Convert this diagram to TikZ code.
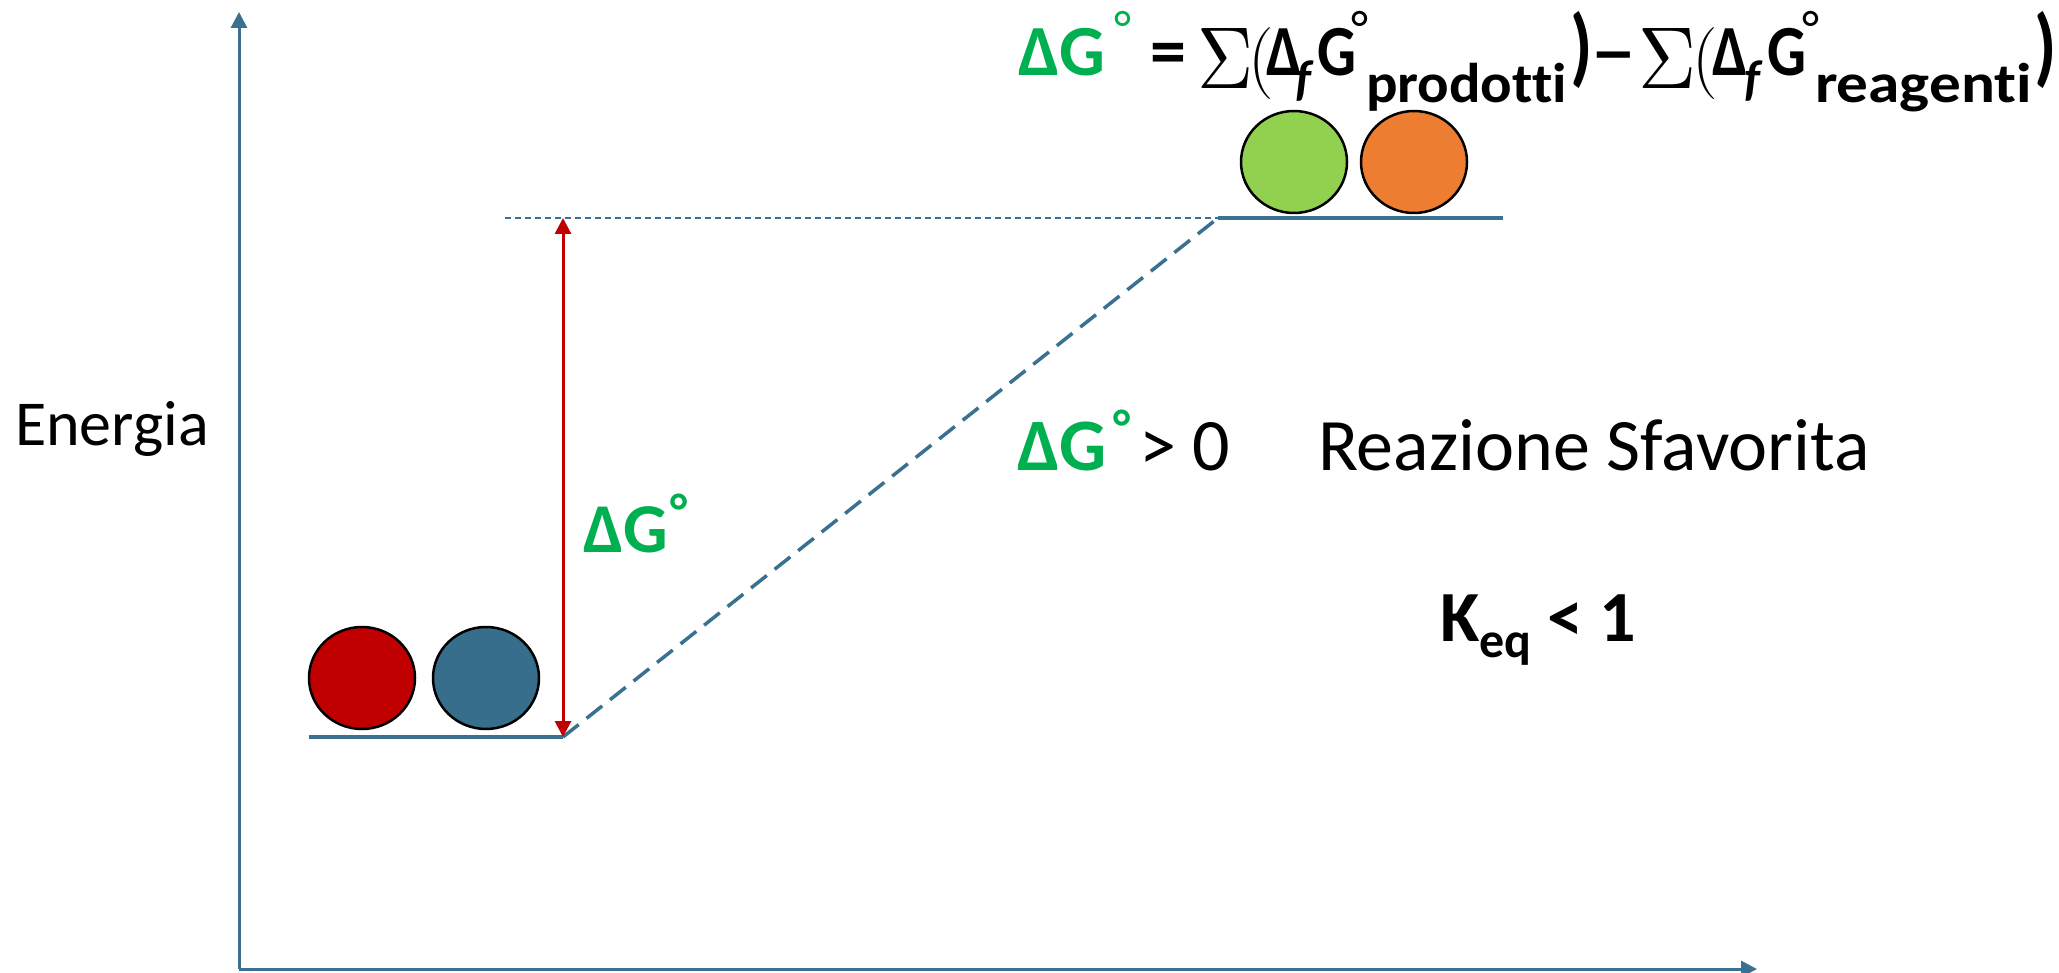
\documentclass[tikz,border=0pt]{standalone}
\usepackage{graphicx}
\usepackage{fontspec}
\setmainfont{Carlito}[Ligatures=NoCommon]
\usetikzlibrary{arrows.meta,shapes.geometric}
\definecolor{axisblue}{HTML}{3A7190}
\definecolor{dgreen}{HTML}{00B050}
\definecolor{dred}{HTML}{C00000}
\definecolor{ballblue}{HTML}{376E8C}
\definecolor{ballgreen}{HTML}{92D050}
\definecolor{ballorange}{HTML}{ED7D31}
\newcommand{\lpar}{{\fontsize{72}{80}\fontseries{m}\fontfamily{lmr}\selectfont(}}
\newcommand{\rpar}{\scalebox{1}[1.2]{)}}
\newcommand{\degr}[1][20pt]{\raisebox{#1}{\fontsize{50}{50}\selectfont °}}
\newcommand{\narrow}[1]{\scalebox{0.85}[1]{#1}}
\tikzset{
  txt/.style={anchor=base west,inner sep=0pt,outer sep=0pt},
  fm/.style={txt,font=\fontsize{72}{80}\selectfont\bfseries},
  fs/.style={txt,font=\fontsize{56}{64}\selectfont\bfseries},
  ff/.style={txt,font=\fontsize{50}{58}\selectfont\bfseries\itshape},
  fsum/.style={inner sep=0pt,outer sep=0pt,anchor=south west},
  ball/.style={ellipse,draw=black,line width=2.5pt,minimum width=106pt,minimum height=102pt,inner sep=0pt},
  axis/.style={draw=axisblue,line width=3pt,-{Triangle[width=16pt,length=16pt]}},
  level/.style={draw=axisblue,line width=4pt},
}
\begin{document}
\begin{tikzpicture}[x=1pt,y=-1pt]
\useasboundingbox (0,0) rectangle (2059,973);
% axes
\coordinate (O) at (239,969);
\coordinate (Ytop) at (239,12);
\coordinate (Xend) at (1757,969);
\draw[axis] (O) -- (Ytop);
\draw[axis] (O) -- (Xend);
% levels
\coordinate (L1a) at (309,737);
\coordinate (L1b) at (563,737);
\coordinate (L2a) at (1218,218);
\coordinate (L2b) at (1503,218);
\coordinate (Dot) at (505,218);
\draw[level] (L1a) -- (L1b);
\draw[level] (L2a) -- (L2b);
\draw[axisblue,line width=3.5pt,dash pattern=on 20pt off 10pt] (L1b) -- (L2a);
\draw[axisblue,line width=1.5pt,dash pattern=on 6pt off 4pt] (Dot) -- (L2a);
\coordinate (Atop) at (563,218);
\draw[dred,line width=3pt,{Triangle[width=16pt,length=16pt]}-{Triangle[width=16pt,length=16pt]}] (L1b) -- (Atop);
% balls
\node[ball,fill=dred] (b1) at (362,678) {};
\node[ball,fill=ballblue] (b2) at (486,678) {};
\node[ball,fill=ballgreen] (b3) at (1294,162) {};
\node[ball,fill=ballorange] (b4) at (1414,162) {};
% texts
\node[txt] (energia) at (15,446) {\fontsize{64}{76}\selectfont Energia};
\node[txt] (dglab) at (583,552) {\fontsize{70}{80}\selectfont\bfseries\color{dgreen}ΔG\kern2pt\degr[24pt]};
\node[txt] (dgpos) at (1017,470) {\fontsize{74}{86}\selectfont{\bfseries\color{dgreen}ΔG\kern7pt\degr[26pt]}\kern8pt> 0};
\node[txt] (reaz) at (1318,470) {\fontsize{74}{86}\selectfont Reazione Sfavorita};
\node[txt] (keq) at (1440,641) {\fontsize{72}{86}\selectfont\bfseries K\raisebox{-16pt}{\fontsize{50}{50}\selectfont eq} < 1};
% formula
\node[fm,text=dgreen] (fdg) at (1018,76) {ΔG};
\node[txt,text=dgreen] (fdeg0) at (1114,76) {\degr[30pt]};
\node[fm] (feq) at (1150,76) {=};
\node[fsum] (fsum1) at (1197,89) {\resizebox{56pt}{60pt}{$\Sigma$}};
\node[txt] (flp1) at (1248,82) {\lpar};
\node[fm] (fd1) at (1266,76) {\narrow{Δ}};
\node[ff] (ff1) at (1295,96) {f};
\node[fm] (fg1) at (1317,76) {\narrow{G}};
\node[txt] (fdeg1) at (1351,76) {\degr[30pt]};
\node[fs] (fp) at (1366,103) {\scalebox{1.05}[1]{prodotti}};
\node[fm] (frp1) at (1570,76) {\rpar};
\node[fm] (fmin) at (1590,76) {\scalebox{1.3}[1]{–}};
\node[fsum] (fsum2) at (1638,89) {\resizebox{58pt}{60pt}{$\Sigma$}};
\node[txt] (flp2) at (1692,82) {\lpar};
\node[fm] (fd2) at (1712,76) {\narrow{Δ}};
\node[ff] (ff2) at (1744,96) {f};
\node[fm] (fg2) at (1767,76) {\narrow{G}};
\node[txt] (fdeg2) at (1802,76) {\degr[30pt]};
\node[fs] (fr) at (1815,103) {\scalebox{1.13}[1]{reagenti}};
\node[fm] (frp2) at (2034,76) {\rpar};
\end{tikzpicture}
\end{document}
